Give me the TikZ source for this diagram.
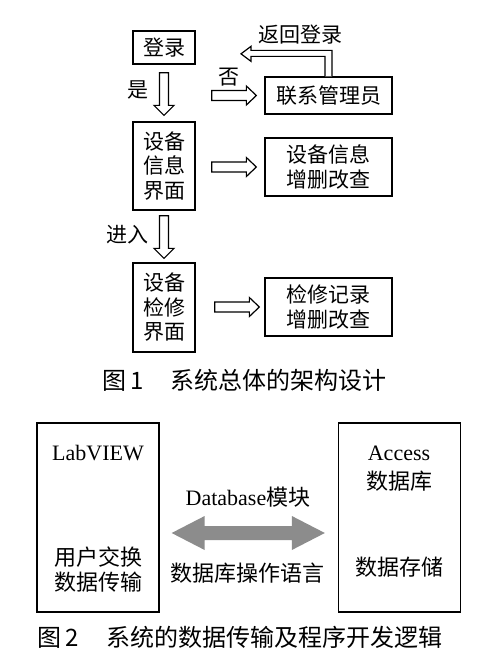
\documentclass[tikz,border=0pt]{standalone}
\usepackage{fontspec}
\setmainfont{Liberation Serif}
\newfontfamily\cjk{Noto Sans CJK SC}
\usetikzlibrary{calc}
\definecolor{arrgray}{HTML}{8C8C8C}
\tikzset{
  box/.style={draw=black, line width=1.3pt, inner sep=0pt, align=center,
    font=\cjk\fontsize{21}{24.5}\selectfont},
  narrowbox/.style={box, minimum width=62pt},
  widebox/.style={box, minimum width=127pt},
  hollow/.style={draw=black, line width=1.2pt, fill=white, line join=miter},
  lbl/.style={inner sep=0pt, font=\cjk\fontsize{21}{24}\selectfont},
  btxt/.style={inner sep=0pt, align=center, font=\cjk\fontsize{22}{25}\selectfont},
  latin/.style={inner sep=0pt, font=\fontsize{22}{25}\selectfont},
  captxt/.style={inner sep=0pt, font=\cjk\fontsize{24}{26}\selectfont},
  bigbox/.style={draw=black, line width=1.3pt, minimum width=122pt, minimum height=189pt, inner sep=0pt}
}
\newcommand\blockdown[2]{%
  \draw[hollow] let \p1=#1, \p2=#2 in
    (\x1-4.5pt,\y1) -- (\x1-4.5pt,\y2+10pt) -- (\x1-10pt,\y2+10pt) -- (\x1,\y2)
    -- (\x1+10pt,\y2+10pt) -- (\x1+4.5pt,\y2+10pt) -- (\x1+4.5pt,\y1) -- cycle;}
\newcommand\blockright[2]{%
  \draw[hollow] let \p1=#1, \p2=#2 in
    (\x1,\y1+5pt) -- (\x2-10pt,\y1+5pt) -- (\x2-10pt,\y1+9.5pt) -- (\x2,\y1)
    -- (\x2-10pt,\y1-9.5pt) -- (\x2-10pt,\y1-5pt) -- (\x1,\y1-5pt) -- cycle;}
\begin{document}
\begin{tikzpicture}[x=1pt,y=-1pt]
\useasboundingbox[fill=white] (0,0) rectangle (500,659);

% ---------- Figure 1 ----------
\node[narrowbox, minimum height=33pt] (login) at (164,47.5) {登录};
\node[narrowbox, minimum height=88pt] (info) at (164,166) {设备\\信息\\界面};
\node[narrowbox, minimum height=89pt] (repair) at (164,307.5) {设备\\检修\\界面};
\node[widebox, minimum height=37pt] (contact) at (328.5,95.5) {联系管理员};
\node[widebox, minimum height=58pt] (infoedit) at (328.5,167) {设备信息\\增删改查};
\node[widebox, minimum height=58pt] (repairedit) at (328.5,307) {检修记录\\增删改查};

% down arrows
\coordinate (d1s) at ($(login.south)+(0,8)$);
\coordinate (d1t) at ($(info.north)+(0,-6)$);
\blockdown{(d1s)}{(d1t)}
\coordinate (d2s) at ($(info.south)+(0,5)$);
\coordinate (d2t) at ($(repair.north)+(0,-4)$);
\blockdown{(d2s)}{(d2t)}

% right arrows
\coordinate (r1s) at ($(login.east |- contact.west)+(16,0)$);
\coordinate (r1t) at ($(contact.west)+(-8,0)$);
\blockright{(r1s)}{(r1t)}
\coordinate (r2s) at ($(info.east |- infoedit.west)+(16,0)$);
\coordinate (r2t) at ($(infoedit.west)+(-8,0)$);
\blockright{(r2s)}{(r2t)}
\coordinate (r3s) at ($(repair.east |- repairedit.west)+(19,0)$);
\coordinate (r3t) at ($(repairedit.west)+(-5,0)$);
\blockright{(r3s)}{(r3t)}

% return arrow
\coordinate (ret) at (contact.north);
\draw[hollow] ($(ret)+(-3.5,0)$) -- ($(ret)+(-3.5,-20)$) -- ($(ret)+(-77.5,-20)$)
  -- ($(ret)+(-77.5,-15)$) -- ($(ret)+(-87.5,-22.5)$) -- ($(ret)+(-77.5,-30)$)
  -- ($(ret)+(-77.5,-26)$) -- ($(ret)+(3.5,-26)$) -- ($(ret)+(3.5,0)$);

% labels
\node[lbl] (yes) at (138,90) {是};
\node[lbl] (no) at (229,77) {否};
\node[lbl] (back) at (300,35) {返回登录};
\node[lbl] (enter) at (127,235) {进入};

\node[captxt, anchor=west] (cap1) at (102,380) {图\,1\hspace{27pt}系统总体的架构设计};

% ---------- Figure 2 ----------
\node[bigbox] (labview) at (98,517.5) {};
\node[bigbox] (access) at (399.5,517.5) {};

\node[latin] (lvtxt) at (98,453) {LabVIEW};
\node[btxt] (lvfun) at (98,569.5) {用户交换\\数据传输};
\node[latin] (actxt) at (399,453) {Access};
\node[btxt] (acdb) at (399,481) {数据库};
\node[btxt] (acfun) at (399,567) {数据存储};
\node[latin] (dbmod) at (248,497) {Database{\cjk 模块}};
\node[btxt] (dblang) at (247,573) {数据库操作语言};

\coordinate (gl) at ($(labview.east |- 0,533)+(12,0)$);
\coordinate (gr) at ($(access.west |- 0,533)+(-13,0)$);
\fill[arrgray] (gl) -- ($(gl)+(33,-17)$) -- ($(gl)+(33,-7)$) -- ($(gr)+(-33,-7)$)
  -- ($(gr)+(-33,-17)$) -- (gr) -- ($(gr)+(-33,17)$) -- ($(gr)+(-33,7)$)
  -- ($(gl)+(33,7)$) -- ($(gl)+(33,17)$) -- cycle;

\node[captxt, anchor=west] (cap2) at (37,637) {图\,2\hspace{28pt}系统的数据传输及程序开发逻辑};
\end{tikzpicture}
\end{document}
